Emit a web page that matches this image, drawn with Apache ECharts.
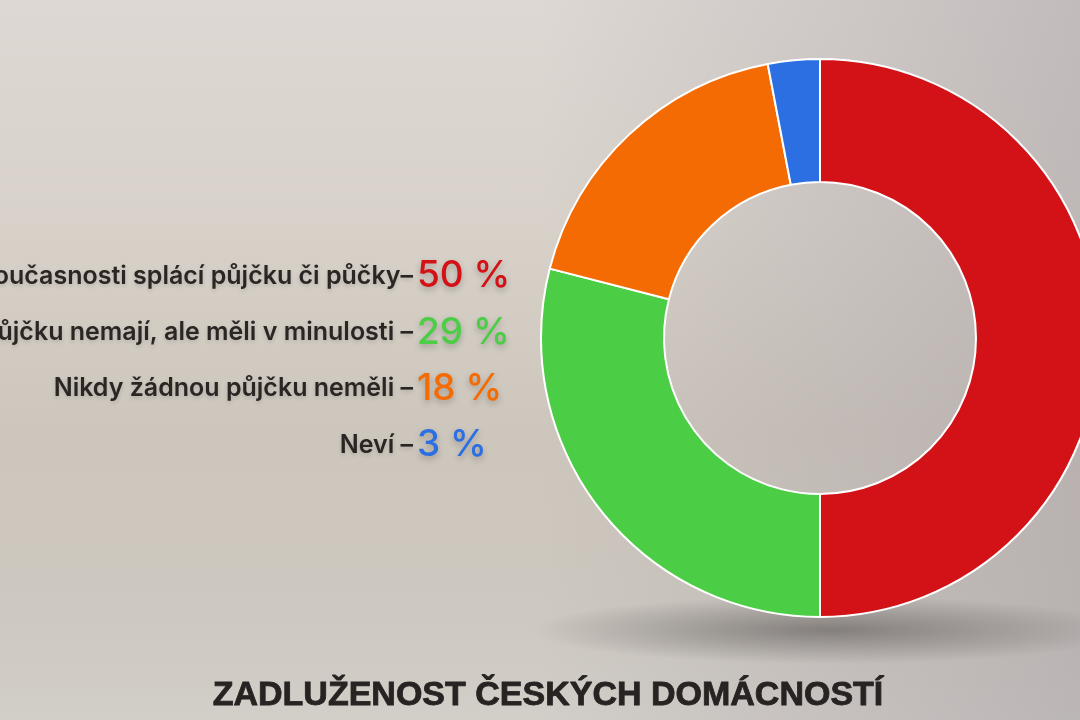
<!DOCTYPE html>
<html>
<head>
<meta charset="utf-8">
<script src="https://cdn.jsdelivr.net/npm/echarts@6/dist/echarts.min.js"></script>
<style>
html,body{margin:0;padding:0;width:1080px;height:720px;overflow:hidden;}
body{
  background:
    radial-gradient(ellipse 300px 34px at 830px 630px, rgba(80,76,74,0.55), rgba(80,76,74,0) 100%),
    linear-gradient(to right, rgba(160,152,160,0) 50%, rgba(160,152,160,0.45) 100%),
    linear-gradient(to bottom, #ddd8d3 0%, #d8d2ca 30%, #cdc6bc 60%, #cdc8c0 85%, #d2cec8 100%);
}
#chart{width:1080px;height:720px;}
</style>
</head>
<body>
<div id="chart"></div>
<script>
const categories = ['V současnosti splácí půjčku či půčky', 'Půjčku nemají, ale měli v minulosti', 'Nikdy žádnou půjčku neměli', 'Neví'];
const values = [50, 29, 18, 3];
const separators = ['–', ' –', ' –', ' –'];
const colors = ['#d21216', '#4ccd46', '#f56b03', '#2b6fe3'];
const titleText = 'ZADLUŽENOST ČESKÝCH DOMÁCNOSTÍ';

const chart = echarts.init(document.getElementById('chart'));
const rowTop = 276, rowGap = 56.4;
const graphics = [];
categories.forEach((c, i) => {
  const y = rowTop + i * rowGap;
  graphics.push({
    type: 'text', x: 413, y: y,
    style: {
      text: c + separators[i], fill: '#2a2624',
      font: '600 25px Inter, Roboto, sans-serif',
      textAlign: 'right', textVerticalAlign: 'middle',
      textShadowColor: 'rgba(0,0,0,0.15)', textShadowBlur: 4, textShadowOffsetY: 2
    }
  });
  graphics.push({
    type: 'text', x: 417, y: y,
    style: {
      text: values[i] + ' %', fill: colors[i],
      font: '500 37px Inter, Roboto, sans-serif',
      textAlign: 'left', textVerticalAlign: 'middle',
      textShadowColor: 'rgba(0,0,0,0.25)', textShadowBlur: 6, textShadowOffsetY: 3
    }
  });
});

chart.setOption({
  animation: false,
  backgroundColor: 'transparent',
  title: {
    text: titleText, left: 543, top: 674, textAlign: 'center',
    textStyle: { fontFamily: '"Liberation Sans", Arial, sans-serif', fontWeight: 'bold', fontSize: 34, color: '#262322', textBorderColor: '#262322', textBorderWidth: 0.8 }
  },
  graphic: graphics,
  series: [{
    type: 'pie',
    center: [820, 338],
    radius: [156, 279],
    startAngle: 90,
    clockwise: true,
    label: { show: false },
    labelLine: { show: false },
    itemStyle: { borderColor: '#ffffff', borderWidth: 2 },
    emphasis: { disabled: true },
    data: categories.map((c, i) => ({ name: c, value: values[i], itemStyle: { color: colors[i] } }))
  }]
});
</script>
</body>
</html>
